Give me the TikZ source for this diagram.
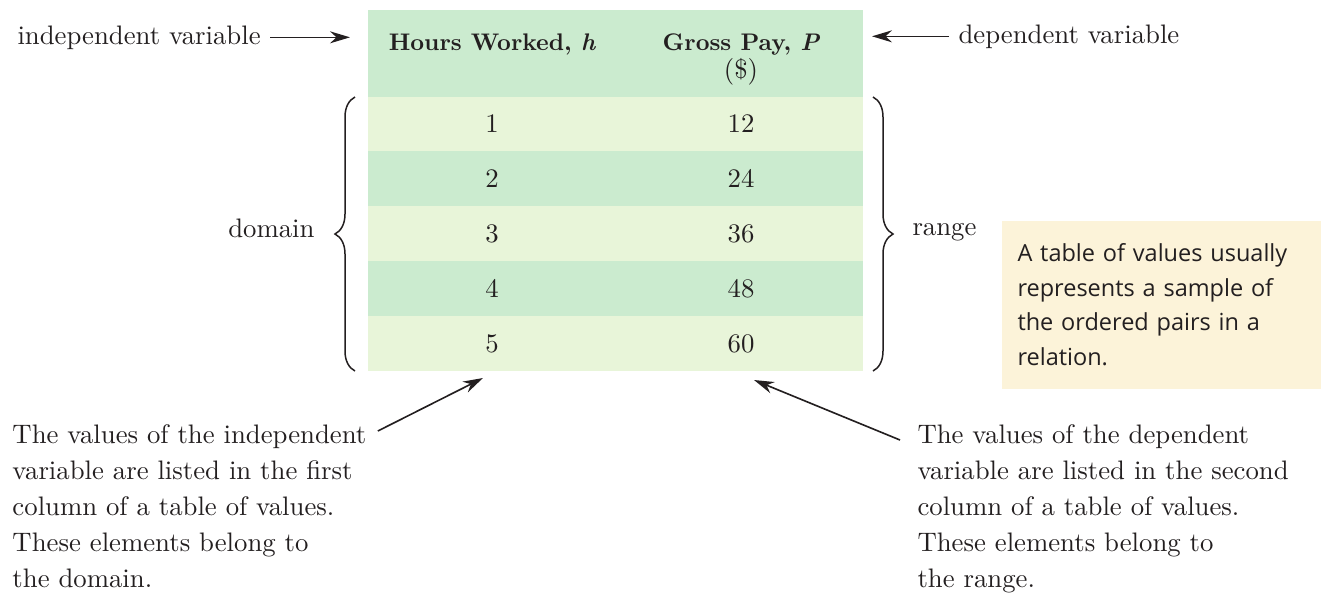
\documentclass[tikz,border=0pt]{standalone}
\usepackage{fontspec}
\usetikzlibrary{arrows.meta,decorations.pathreplacing}
\newfontfamily\notefont{Open Sans}
\definecolor{headgreen}{HTML}{CBEBCF}
\definecolor{rowgreen}{HTML}{CBEBCF}
\definecolor{rowlight}{HTML}{E8F5D9}
\definecolor{notebg}{HTML}{FCF3D9}
\definecolor{ink}{HTML}{231F20}

\begin{document}
\begin{tikzpicture}[x=0.4pt,y=-0.4pt,>={Stealth[length=8pt,width=4.8pt,inset=2.6pt]},
    txt/.style={font=\fontsize{10.7}{14.4}\selectfont,text=ink,inner sep=0pt},
    head/.style={txt,font=\fontsize{9.6}{12}\selectfont},
    ptr/.style={->,draw=ink,line width=0.65pt},
    curly/.style={draw=ink,line width=0.6pt,decorate,decoration={brace,amplitude=8pt}},
    note/.style={fill=notebg,font=\notefont\fontsize{9.4}{13.8}\selectfont,text=ink,
      text width=114.8pt,align=left,inner xsep=6.4pt,minimum height=67.2pt}]
  \useasboundingbox (0,0) rectangle (1322,596);
  % table of values
  \fill[headgreen] (368,10) rectangle (863,97);
  \fill[rowlight] (368,97) rectangle (863,151);
  \fill[rowgreen] (368,151) rectangle (863,206);
  \fill[rowlight] (368,206) rectangle (863,261);
  \fill[rowgreen] (368,261) rectangle (863,316);
  \fill[rowlight] (368,316) rectangle (863,371);
  \node[head,anchor=base] (hoursHd) at (492,50) {\bfseries Hours Worked, \itshape h};
  \node[head,anchor=base] (payHd) at (741,50) {\bfseries Gross Pay, \itshape P};
  \node[txt,anchor=base] (dollarHd) at (741,78) {(\$)};
  \node[txt] (h1) at (492,124) {1};   \node[txt] (p1) at (741,124) {12};
  \node[txt] (h2) at (492,178.5) {2}; \node[txt] (p2) at (741,178.5) {24};
  \node[txt] (h3) at (492,233.5) {3}; \node[txt] (p3) at (741,233.5) {36};
  \node[txt] (h4) at (492,288.5) {4}; \node[txt] (p4) at (741,288.5) {48};
  \node[txt] (h5) at (492,343.5) {5}; \node[txt] (p5) at (741,343.5) {60};
  % variable labels
  \node[txt,anchor=base west] (indep) at (17,44) {independent variable};
  \node[txt,anchor=base west] (dep) at (958,43) {dependent variable};
  \coordinate (indtip) at (350,39);
  \coordinate (deptip) at (872,39);
  \draw[ptr,shorten <=3.6pt] (indep.east) -- (indep.east -| indtip);
  \draw[ptr,shorten <=3.6pt] (dep.west) -- (dep.west -| deptip);
  % domain and range
  \draw[curly] (355,371) -- (355,97);
  \draw[curly] (873,97) -- (873,371);
  \node[txt,anchor=base east] (domain) at (315,237) {domain};
  \node[txt,anchor=base west] (range) at (912,235) {range};
  \node[note,anchor=north west] (note) at (1001,220) {A table of values usually\\ represents a sample of\\ the ordered pairs in a\\ relation.};
  % notes below
  \node[txt,anchor=north west,align=left] (domtext) at (12,424) {The values of the independent\\ variable are listed in the first\\ column of a table of values.\\ These elements belong to\\ the domain.};
  \node[txt,anchor=north west,align=left] (rantext) at (917,424) {The values of the dependent\\ variable are listed in the second\\ column of a table of values.\\ These elements belong to\\ the range.};
  \coordinate (domtip) at (483,378);
  \coordinate (rantip) at (754,380);
  \draw[ptr] ([shift={(11,7)}]domtext.north east) -- (domtip);
  \draw[ptr] ([shift={(-17,16)}]rantext.north west) -- (rantip);
\end{tikzpicture}
\end{document}
